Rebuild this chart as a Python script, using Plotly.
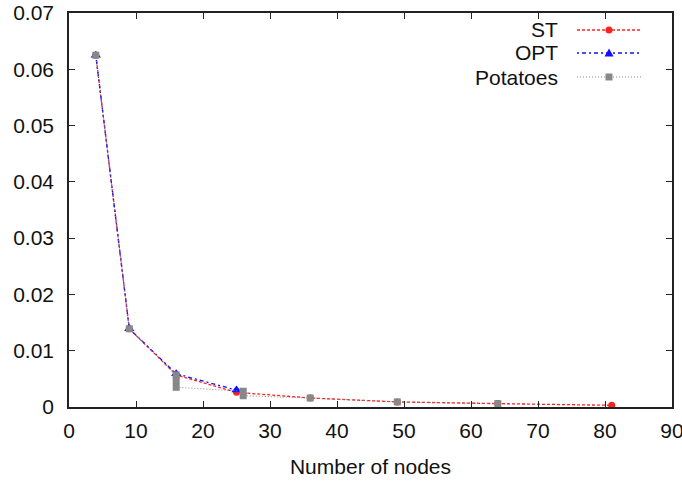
import plotly.graph_objects as go

# ---- data ----
st_x = [4, 9, 16, 25, 36, 49, 64, 81]
st_y = [0.0625, 0.0139, 0.0057, 0.0026, 0.0016, 0.0009, 0.0006, 0.0003]

opt_x = [4, 9, 16, 25]
opt_y = [0.0625, 0.0139, 0.0059, 0.0030]

pot_x = [4, 9, 16, 16, 16, 26, 26, 36, 49, 64]
pot_y = [0.0625, 0.0139, 0.0057, 0.0047, 0.0035, 0.0028, 0.0020, 0.0016, 0.0009, 0.0006]

x_ticks = [0, 10, 20, 30, 40, 50, 60, 70, 80, 90]
y_ticks = [0, 0.01, 0.02, 0.03, 0.04, 0.05, 0.06, 0.07]
y_tick_text = ["0", "0.01", "0.02", "0.03", "0.04", "0.05", "0.06", "0.07"]

series_names = ["ST", "OPT", "Potatoes"]
RED = "#ff2020"
BLUE = "#1010ff"
GRAY = "#888888"

FONT = "Liberation Sans, Arial, sans-serif"
FS = 21

fig = go.Figure()
fig.add_trace(go.Scatter(
    x=st_x, y=st_y, name=series_names[0], mode="lines+markers",
    line=dict(color=RED, width=1.3, dash="3px,2px"),
    marker=dict(symbol="circle", size=7, color=RED),
))
fig.add_trace(go.Scatter(
    x=opt_x, y=opt_y, name=series_names[1], mode="lines+markers",
    line=dict(color=BLUE, width=1.3, dash="2px,3px,4px,3px"),
    marker=dict(symbol="triangle-up", size=9, color=BLUE),
))
fig.add_trace(go.Scatter(
    x=pot_x, y=pot_y, name=series_names[2], mode="lines+markers",
    line=dict(color=GRAY, width=1, dash="1px,2px"),
    marker=dict(symbol="square", size=7, color=GRAY),
))

L, R, T, B = 69, 10, 13, 75
W, H = 682, 482
pw, ph = W - L - R, H - T - B

def px(xp):
    return (xp - L) / pw

def py(yp):
    return (H - B - yp) / ph

# gnuplot-style key: text right-aligned, sample on the right
rows = [30, 53, 77]
styles = [
    (RED, "3px,2px", "circle"),
    (BLUE, "2px,3px,4px,3px", "triangle"),
    (GRAY, "1px,2px", "square"),
]
shapes = []
annotations = []
for name, ry, (col, dash, mk) in zip(series_names, rows, styles):
    annotations.append(dict(
        x=px(560), y=py(ry), xref="paper", yref="paper", text=name,
        showarrow=False, xanchor="right", yanchor="middle",
        font=dict(family=FONT, size=FS, color="#111111"),
    ))
    shapes.append(dict(
        type="line", xref="paper", yref="paper",
        x0=px(577), x1=px(642), y0=py(ry), y1=py(ry),
        line=dict(color=col, width=1.3 if mk != "square" else 1, dash=dash),
    ))
    cx, cy = 609, ry
    if mk == "circle":
        shapes.append(dict(type="circle", xref="paper", yref="paper",
                           x0=px(cx - 3.5), x1=px(cx + 3.5), y0=py(cy + 3.5), y1=py(cy - 3.5),
                           fillcolor=col, line=dict(color=col, width=0)))
    elif mk == "square":
        shapes.append(dict(type="rect", xref="paper", yref="paper",
                           x0=px(cx - 3.5), x1=px(cx + 3.5), y0=py(cy + 3.5), y1=py(cy - 3.5),
                           fillcolor=col, line=dict(color=col, width=0)))
    else:
        path = "M {} {} L {} {} L {} {} Z".format(
            px(cx - 4.5), py(cy + 3.5), px(cx + 4.5), py(cy + 3.5), px(cx), py(cy - 4.5))
        shapes.append(dict(type="path", xref="paper", yref="paper", path=path,
                           fillcolor=col, line=dict(color=col, width=0)))

axis_common = dict(
    showgrid=False, zeroline=False, showline=True, linecolor="#222222", linewidth=1.5,
    mirror="ticks", ticks="inside", ticklen=6, tickcolor="#222222", tickwidth=1.2,
    tickfont=dict(family=FONT, size=FS, color="#111111"), automargin=False,
    ticklabeloverflow="allow",
)

fig.update_layout(
    width=W, height=H,
    margin=dict(l=L, r=R, t=T, b=B),
    paper_bgcolor="white", plot_bgcolor="white",
    showlegend=False,
    shapes=shapes, annotations=annotations,
    xaxis=dict(range=[0, 90], tickvals=x_ticks, ticktext=[str(v) for v in x_ticks],
               ticklabelstandoff=4,
               title=dict(text="Number of nodes", font=dict(family=FONT, size=FS, color="#111111"),
                          standoff=18),
               **axis_common),
    yaxis=dict(range=[0, 0.07], tickvals=y_ticks, ticktext=y_tick_text,
               ticklabelstandoff=9, **axis_common),
)

fig.write_html("out.html")
